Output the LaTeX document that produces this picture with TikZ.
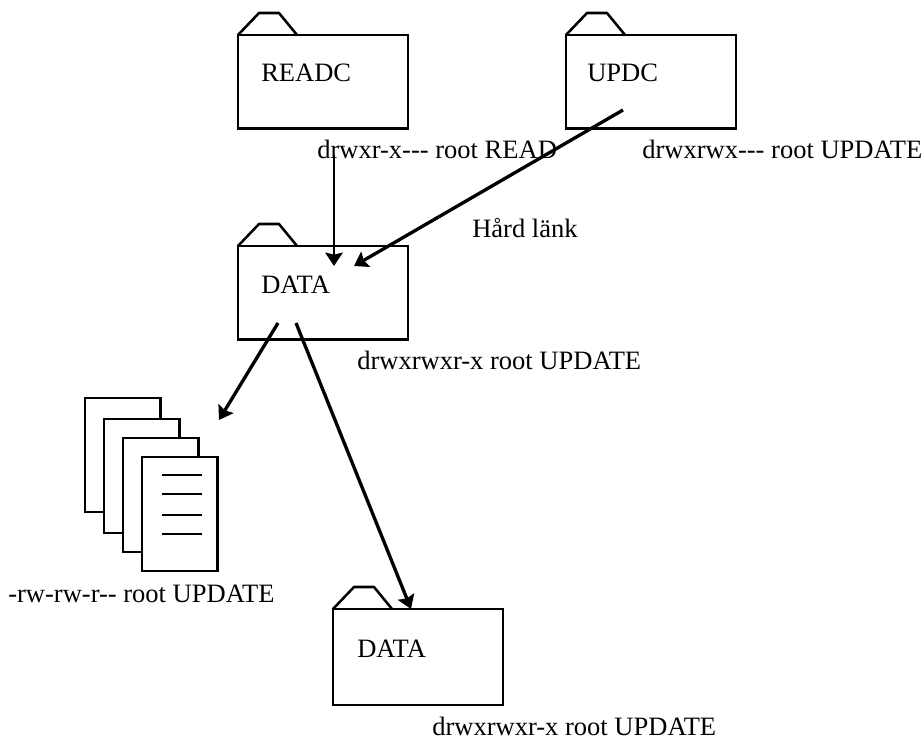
\documentclass[tikz,border=0pt]{standalone}
\usepackage{fontspec}
\setmainfont[Ligatures=TeXOff]{Liberation Serif}
\usetikzlibrary{arrows.meta}

\tikzset{
  folder/.style={draw, line width=1.9pt, minimum width=127.5pt, minimum height=70pt, outer sep=0pt, inner sep=0pt, anchor=north west},
  tab/.style={line width=1.9pt, line join=round},
  page/.style={draw, fill=white, line width=1.9pt, minimum width=56.5pt, minimum height=85.5pt, outer sep=0pt, inner sep=0pt, anchor=north west},
  txt/.style={anchor=base west, inner sep=0pt, font=\fontsize{19.9}{23}\selectfont},
  thinlink/.style={line width=1.9pt, -{Stealth[length=10pt, width=13pt, inset=1.5pt]}},
  thicklink/.style={line width=2.5pt, -{Stealth[length=10pt, width=13pt, inset=1.5pt]}},
}

\begin{document}
\begin{tikzpicture}[x=0.75pt, y=-0.75pt]
\useasboundingbox (0, 0) rectangle (924, 738);

% folders
\node [folder] (readc) at (238, 35) {};
\node [folder] (updc) at (566, 35) {};
\node [folder] (data) at (238, 246) {};
\node [folder, minimum height=72pt] (subdata) at (333, 609) {};
\foreach \f in {readc, updc, data, subdata}
  \draw [tab] (\f.north west) -- +(21, -22) -- +(41, -22) -- +(59, 0);

\node [txt] (readc text) at (261, 82) {READC};
\node [txt] (updc text) at (587, 82) {UPDC};
\node [txt] (data text) at (261, 293) {DATA};
\node [txt] (subdata text) at (357, 657) {DATA};

% files
\node [page] (file a) at (85, 398) {};
\node [page] (file b) at (104, 419) {};
\node [page] (file c) at (123, 438) {};
\node [page] (file d) at (142, 457) {};
\foreach \y in {475, 494, 515, 534}
  \draw [line width=1.9pt] (162, \y) -- (202, \y);

% permissions
\node [txt] (readc perm) at (317, 159) {drwxr-x--- root READ};
\node [txt] (updc perm) at (642, 159) {drwxrwx--- root UPDATE};
\node [txt] (link text) at (472, 237) {Hård länk};
\node [txt] (data perm) at (357, 369) {drwxrwxr-x root UPDATE};
\node [txt] (file perm) at (8, 602) {-rw-rw-r-- root UPDATE};
\node [txt] (subdata perm) at (432, 735) {drwxrwxr-x root UPDATE};

% links
\coordinate (readc out) at (334, 155);
\coordinate (readc in) at (334, 266);
\coordinate (updc out) at (623, 110);
\coordinate (updc in) at (354, 266);
\coordinate (data left) at (278, 323);
\coordinate (file in) at (219, 420);
\coordinate (data right) at (296, 323);
\coordinate (subdata in) at (411, 609);
\draw [thinlink] (readc out) -- (readc in);
\draw [thicklink] (updc out) -- (updc in);
\draw [thicklink] (data left) -- (file in);
\draw [thicklink] (data right) -- (subdata in);
\end{tikzpicture}
\end{document}
